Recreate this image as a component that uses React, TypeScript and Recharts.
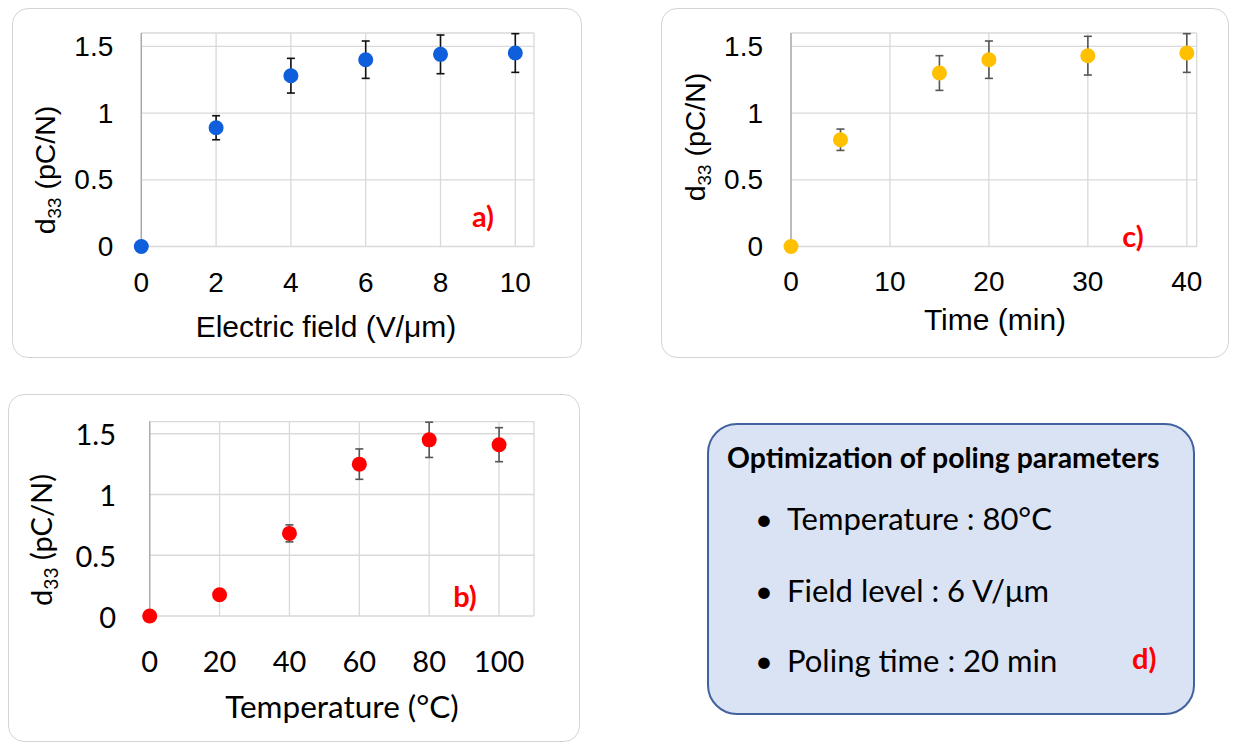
import React from 'react'
import { ScatterChart, Scatter, XAxis, YAxis, CartesianGrid, ErrorBar } from 'recharts'

// a) electric field series
const fieldX = [0, 2, 4, 6, 8, 10]
const fieldD33 = [0, 0.89, 1.28, 1.4, 1.44, 1.45]
const fieldErr = [0, 0.09, 0.13, 0.14, 0.145, 0.145]
const fieldTicks = [0, 2, 4, 6, 8, 10]

// b) temperature series
const tempX = [0, 20, 40, 60, 80, 100]
const tempD33 = [0, 0.175, 0.68, 1.25, 1.45, 1.41]
const tempErr = [0, 0, 0.07, 0.125, 0.145, 0.14]
const tempTicks = [0, 20, 40, 60, 80, 100]

// c) poling time series
const timeX = [0, 5, 15, 20, 30, 40]
const timeD33 = [0, 0.8, 1.3, 1.4, 1.43, 1.45]
const timeErr = [0, 0.08, 0.13, 0.14, 0.145, 0.145]
const timeTicks = [0, 10, 20, 30, 40]

const yTicks = [0, 0.5, 1, 1.5]

// d) summary
const summaryTitle = 'Optimization of poling parameters'
const summaryItems = ['Temperature : 80°C', 'Field level : 6 V/μm', 'Poling time : 20 min']

const ARIAL = '"Liberation Sans", Arial, sans-serif'
const CALIBRI = 'Lato, "Open Sans", sans-serif'

type Rect = { left: number; top: number; width: number; height: number }

interface PanelProps {
  box: Rect
  plot: Rect
  xs: number[]
  ys: number[]
  errs: number[]
  xDomain: [number, number]
  xTicks: number[]
  color: string
  errColor: string
  font: string
  tickFont: number
  xTickDy: number
  yTickDx: number
  xTitle: string
  xTitlePos: [number, number]
  titleFont: number
  yTitlePos: [number, number]
  yTitleFont: number
  tag: string
  tagPos: [number, number]
}

const Y_AXIS_W = 80
const X_AXIS_H = 40

function Panel(p: PanelProps) {
  const data = p.xs.map((x, i) => ({ x, y: p.ys[i], err: p.errs[i] }))
  const margin = {
    left: p.plot.left - p.box.left - Y_AXIS_W,
    top: p.plot.top - p.box.top,
    right: p.box.left + p.box.width - (p.plot.left + p.plot.width),
    bottom: p.box.top + p.box.height - (p.plot.top + p.plot.height) - X_AXIS_H,
  }
  const textStyle: React.CSSProperties = {
    position: 'absolute',
    whiteSpace: 'nowrap',
    lineHeight: 1,
    color: '#000',
    fontFamily: p.font,
  }

  return (
    <>
      <div
        style={{
          position: 'absolute',
          left: p.box.left,
          top: p.box.top,
          width: p.box.width,
          height: p.box.height,
          border: '1.5px solid #d4d4d4',
          borderRadius: 16,
          boxSizing: 'border-box',
        }}
      />
      <div style={{ position: 'absolute', left: p.box.left, top: p.box.top }}>
        <ScatterChart width={p.box.width} height={p.box.height} margin={margin}>
          <CartesianGrid stroke="#d9d9d9" strokeWidth={1.3} />
          <XAxis
            type="number"
            dataKey="x"
            domain={p.xDomain}
            ticks={p.xTicks}
            height={X_AXIS_H}
            axisLine={false}
            tickLine={false}
            tickSize={0}
            tickMargin={0}
            tick={({ x, y, payload }: any) => (
              <text
                x={x}
                y={y + p.xTickDy}
                textAnchor="middle"
                dominantBaseline="central"
                fontFamily={p.font}
                fontSize={p.tickFont}
                fill="#000"
              >
                {payload.value}
              </text>
            )}
          />
          <YAxis
            type="number"
            dataKey="y"
            domain={[0, 1.6]}
            ticks={yTicks}
            width={Y_AXIS_W}
            axisLine={{ stroke: '#a6a6a6', strokeWidth: 1.3 }}
            tickLine={false}
            tickSize={0}
            tickMargin={0}
            tick={({ x, y, payload }: any) => (
              <text
                x={x - p.yTickDx}
                y={y}
                textAnchor="end"
                dominantBaseline="central"
                fontFamily={p.font}
                fontSize={p.tickFont}
                fill="#000"
              >
                {payload.value}
              </text>
            )}
          />
          <Scatter
            data={data}
            isAnimationActive={false}
            shape={(s: any) => <circle cx={s.cx} cy={s.cy} r={7.5} fill={p.color} />}
          >
            <ErrorBar dataKey="err" direction="y" width={4} stroke={p.errColor} strokeWidth={1.6} />
          </Scatter>
        </ScatterChart>
      </div>
      <div
        style={{
          ...textStyle,
          left: p.xTitlePos[0],
          top: p.xTitlePos[1],
          transform: 'translate(-50%, -50%)',
          fontSize: p.titleFont,
        }}
      >
        {p.xTitle}
      </div>
      <div
        style={{
          ...textStyle,
          left: p.yTitlePos[0],
          top: p.yTitlePos[1],
          transform: 'translate(-50%, -50%) rotate(-90deg)',
          fontSize: p.yTitleFont,
        }}
      >
        d<span style={{ fontSize: '0.66em', position: 'relative', top: '0.3em' }}>33</span>
        {' (pC/N)'}
      </div>
      <div
        style={{
          ...textStyle,
          left: p.tagPos[0],
          top: p.tagPos[1],
          transform: 'translate(-50%, -50%)',
          fontFamily: CALIBRI,
          fontWeight: 700,
          fontSize: 29,
          color: '#ff0000',
        }}
      >
        {p.tag}
      </div>
    </>
  )
}

export default function App() {
  return (
    <div
      style={{
        position: 'absolute',
        left: 0,
        top: 0,
        width: 1233,
        height: 743,
        background: '#fff',
        overflow: 'hidden',
      }}
    >
      <Panel
        box={{ left: 12, top: 8, width: 570, height: 350 }}
        plot={{ left: 141.3, top: 33, width: 392.7, height: 213.5 }}
        xs={fieldX}
        ys={fieldD33}
        errs={fieldErr}
        xDomain={[0, 10.5]}
        xTicks={fieldTicks}
        color="#0f5fdc"
        errColor="#111"
        font={ARIAL}
        tickFont={28}
        xTickDy={35.5}
        yTickDx={28}
        xTitle="Electric field (V/μm)"
        xTitlePos={[326, 327]}
        titleFont={30}
        yTitlePos={[45, 170]}
        yTitleFont={28.5}
        tag="a)"
        tagPos={[483, 215]}
      />
      <Panel
        box={{ left: 661, top: 8, width: 568, height: 350 }}
        plot={{ left: 791, top: 33, width: 405.7, height: 213.5 }}
        xs={timeX}
        ys={timeD33}
        errs={timeErr}
        xDomain={[0, 41]}
        xTicks={timeTicks}
        color="#ffc000"
        errColor="#555"
        font={ARIAL}
        tickFont={28}
        xTickDy={35}
        yTickDx={28}
        xTitle="Time (min)"
        xTitlePos={[995, 320]}
        titleFont={30}
        yTitlePos={[695, 137]}
        yTitleFont={28.5}
        tag="c)"
        tagPos={[1133, 235]}
      />
      <Panel
        box={{ left: 8, top: 394, width: 572, height: 348 }}
        plot={{ left: 149.7, top: 421.6, width: 384.3, height: 194.4 }}
        xs={tempX}
        ys={tempD33}
        errs={tempErr}
        xDomain={[0, 110]}
        xTicks={tempTicks}
        color="#ff0000"
        errColor="#555"
        font={CALIBRI}
        tickFont={29}
        xTickDy={44}
        yTickDx={33.7}
        xTitle="Temperature (°C)"
        xTitlePos={[342, 707]}
        titleFont={31.5}
        yTitlePos={[40, 540]}
        yTitleFont={29}
        tag="b)"
        tagPos={[465, 595]}
      />
      <div
        style={{
          position: 'absolute',
          left: 707,
          top: 423,
          width: 488,
          height: 292,
          background: '#dae3f3',
          border: '2px solid #41619f',
          borderRadius: 30,
          boxSizing: 'border-box',
        }}
      />
      <div
        style={{
          position: 'absolute',
          left: 727,
          top: 457,
          transform: 'translateY(-50%)',
          fontFamily: CALIBRI,
          fontWeight: 700,
          fontSize: 28.4,
          lineHeight: 1,
          whiteSpace: 'nowrap',
          color: '#000',
        }}
      >
        {summaryTitle}
      </div>
      {summaryItems.map((item, i) => (
        <div
          key={item}
          style={{
            position: 'absolute',
            left: 755,
            top: [518, 590, 660][i],
            transform: 'translateY(-50%)',
            fontFamily: CALIBRI,
            fontSize: 31,
            lineHeight: 1,
            whiteSpace: 'nowrap',
            color: '#000',
          }}
        >
          <span style={{ display: 'inline-block', width: 32 }}>•</span>
          {item}
        </div>
      ))}
      <div
        style={{
          position: 'absolute',
          left: 1132,
          top: 657,
          transform: 'translateY(-50%)',
          fontFamily: CALIBRI,
          fontWeight: 700,
          fontSize: 29,
          lineHeight: 1,
          color: '#ff0000',
        }}
      >
        d)
      </div>
    </div>
  )
}
